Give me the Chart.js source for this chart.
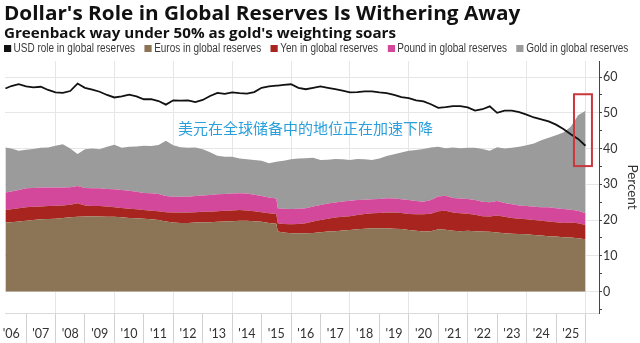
<!DOCTYPE html>
<html>
<head>
<meta charset="utf-8">
<script src="https://cdn.jsdelivr.net/npm/chart.js@4.4.1/dist/chart.umd.min.js"></script>
<style>
  body { margin: 0; background: #fff; width: 640px; height: 343px; overflow: hidden; position: relative; }
  #wrap { position: absolute; left: 0; top: 0; width: 640px; height: 343px; }
  #title { position: absolute; left: 4px; top: -1px; font: bold 20px "Open Sans", sans-serif; color: #111; white-space: nowrap; }
  #subtitle { position: absolute; left: 4px; top: 22px; font: bold 15px "Open Sans", sans-serif; color: #111; white-space: nowrap; }
  #legend { position: absolute; left: 4px; top: 41px; display: flex; gap: 12px; white-space: nowrap;
            font: 12.5px "Liberation Sans", sans-serif; color: #3a3a3a; transform-origin: left center; }
  #legend .item { display: flex; align-items: center; }
  #legend i { display: inline-block; width: 9px; height: 7px; margin-right: 3px; }
</style>
</head>
<body>
<div id="wrap"><canvas id="reservesChart"></canvas></div>
<div id="title">Dollar's Role in Global Reserves Is Withering Away</div>
<div id="subtitle">Greenback way under 50% as gold's weighting soars</div>
<div id="legend"></div>
<script>
  // Quarterly readings (decimal years); extra point in mid-2015 marks the reclassification step
  const dates = [
    2006.3, 2006.5, 2006.75,
    2007, 2007.25, 2007.5, 2007.75,
    2008, 2008.25, 2008.5, 2008.75,
    2009, 2009.25, 2009.5, 2009.75,
    2010, 2010.25, 2010.5, 2010.75,
    2011, 2011.25, 2011.5, 2011.75,
    2012, 2012.25, 2012.5, 2012.75,
    2013, 2013.25, 2013.5, 2013.75,
    2014, 2014.25, 2014.5, 2014.75,
    2015, 2015.25, 2015.5, 2015.55, 2015.75,
    2016, 2016.25, 2016.5, 2016.75,
    2017, 2017.25, 2017.5, 2017.75,
    2018, 2018.25, 2018.5, 2018.75,
    2019, 2019.25, 2019.5, 2019.75,
    2020, 2020.25, 2020.5, 2020.75,
    2021, 2021.25, 2021.5, 2021.75,
    2022, 2022.25, 2022.5, 2022.75,
    2023, 2023.25, 2023.5, 2023.75,
    2024, 2024.25, 2024.5, 2024.75,
    2025, 2025.25, 2025.5, 2025.75,
    2026
  ];

  // USD share of global reserves (%), drawn as a line
  const usd = [
    56.8, 57.5, 58.0,
    57.4, 57.1, 57.3, 56.4,
    55.7, 55.6, 56.1, 58.2,
    57.0, 56.5, 55.9, 55.0,
    54.3, 54.6, 55.1, 54.6,
    53.8, 53.8, 53.3, 52.3,
    53.5, 53.4, 53.5, 53.0,
    53.6, 54.7, 55.6, 55.3,
    55.7, 55.5, 55.4, 55.8,
    57.0, 57.4, 57.6, 57.6, 57.8,
    58.0, 57.0, 56.6, 57.0,
    57.4, 57.0, 56.6, 56.2,
    55.7, 55.8, 56.0, 56.0,
    55.7, 55.5, 55.0, 54.4,
    54.1, 53.5, 53.2, 52.4,
    51.4, 51.6, 51.9, 51.9,
    51.5, 50.6, 51.0, 51.8,
    50.0, 50.6, 50.6, 50.2,
    49.5, 48.7, 48.2, 47.6,
    46.7, 45.5, 44.0, 42.7,
    40.8
  ];

  // Stacked shares (%)
  const euros = [
    19.3, 19.4, 19.6,
    19.8, 20.0, 20.2, 20.3,
    20.4, 20.6, 20.8, 20.9,
    21.0, 21.1, 21.0, 20.9,
    20.9, 20.8, 20.6, 20.5,
    20.4, 20.2, 20.0, 19.6,
    19.3, 19.2, 19.2, 19.3,
    19.4, 19.4, 19.5, 19.6,
    19.7, 19.8, 19.8, 19.7,
    19.5, 19.2, 19.0, 16.8, 16.5,
    16.3, 16.3, 16.3, 16.4,
    16.6, 16.8, 16.9, 17.1,
    17.2, 17.4, 17.6, 17.7,
    17.7, 17.7, 17.6, 17.5,
    17.2, 17.0, 16.8, 16.9,
    17.4, 17.3, 17.0, 16.9,
    17.0, 16.9, 16.8, 16.7,
    16.5, 16.3, 16.2, 16.1,
    16.0, 15.8, 15.7, 15.5,
    15.4, 15.2, 15.1, 14.9,
    14.6
  ];

  const yen = [
    3.5, 3.6, 3.7,
    3.8, 3.7, 3.6, 3.6,
    3.6, 3.5, 3.5, 3.8,
    3.1, 2.8, 2.9, 2.9,
    2.7, 2.6, 2.6, 2.5,
    2.4, 2.4, 2.5, 2.6,
    2.8, 2.9, 2.9, 2.9,
    2.9, 2.9, 3.0, 3.0,
    3.0, 3.0, 2.9, 2.8,
    2.7, 2.7, 2.7, 2.3, 2.4,
    2.5, 2.6, 2.8, 3.2,
    3.4, 3.6, 3.8, 3.8,
    3.9, 4.0, 4.1, 4.2,
    4.3, 4.4, 4.5, 4.5,
    4.5, 4.6, 4.8, 4.9,
    5.1, 5.3, 5.1, 5.0,
    4.8, 4.6, 4.3, 4.3,
    4.8, 4.6, 4.4, 4.3,
    4.2, 4.2, 4.1, 4.1,
    4.0, 4.0, 4.2, 4.2,
    4.0
  ];

  const pound = [
    4.9, 5.0, 5.1,
    5.3, 5.3, 5.3, 5.2,
    5.1, 5.0, 4.9, 4.8,
    4.9, 5.0, 5.0, 4.9,
    5.0, 5.0, 5.0, 4.9,
    4.8, 4.9, 4.8, 4.5,
    4.4, 4.4, 4.4, 4.5,
    4.6, 4.7, 4.7, 4.7,
    4.7, 4.7, 4.7, 4.6,
    4.5, 4.4, 4.3, 4.2, 4.3,
    4.3, 4.3, 4.2, 4.2,
    4.2, 4.2, 4.2, 4.3,
    4.3, 4.2, 4.0, 3.9,
    3.9, 4.0, 3.9, 3.8,
    3.9, 3.7, 3.5, 3.8,
    4.1, 4.2, 4.1, 4.1,
    4.1, 4.1, 4.0, 4.0,
    4.0, 3.9, 3.8, 3.7,
    3.7, 3.7, 3.8, 4.0,
    3.9, 3.9, 3.6, 3.5,
    3.3
  ];

  const gold = [
    12.6, 12.0, 11.0,
    10.8, 10.9, 11.1, 11.2,
    11.7, 12.1, 10.8, 9.0,
    10.8, 11.1, 10.9, 11.8,
    12.5, 11.8, 12.3, 12.7,
    13.2, 13.2, 13.7, 15.5,
    14.4, 13.9, 13.7, 13.6,
    12.9, 12.0, 10.8, 10.4,
    10.3, 9.7, 9.6, 9.7,
    9.9, 9.6, 10.3, 13.1, 13.4,
    13.9, 14.0, 14.0, 13.6,
    12.6, 12.3, 12.2, 11.8,
    11.4, 11.5, 11.3, 11.0,
    11.3, 11.8, 12.4, 13.1,
    13.8, 14.3, 14.8, 14.7,
    13.9, 13.3, 14.1, 14.1,
    14.3, 14.6, 14.8, 14.4,
    15.1, 15.2, 15.8, 16.4,
    17.0, 17.7, 18.7, 19.4,
    20.4, 21.4, 23.2, 26.7,
    28.7
  ];

  const firstYear = 2006;
  const yearLabels = ["'06", "'07", "'08", "'09", "'10", "'11", "'12", "'13", "'14", "'15",
                      "'16", "'17", "'18", "'19", "'20", "'21", "'22", "'23", "'24", "'25"];

  const noteText = '美元在全球储备中的地位正在加速下降';
  const notePos = { x: 2012.16, y: 45.7 };
  const boxYears = [2025.61, 2026.22];
  const boxLevels = [35.1, 55.2];

  const pts = arr => dates.map((d, i) => ({ x: d, y: arr[i] }));

  const area = (label, arr, color, fill) => ({
    label, data: pts(arr), stack: 'shares', fill,
    backgroundColor: color, borderColor: color, borderWidth: 0,
    pointRadius: 0, tension: 0
  });

  // year separators at whole years, labels centred at mid-year
  const xTicks = [];
  yearLabels.forEach((_, i) => {
    xTicks.push(firstYear + i + 0.5);
    xTicks.push(firstYear + i + 1);
  });

  const labelFont = { family: 'Lato, sans-serif', size: 12.5 };

  // squeeze a text block to a given width
  function fitWidth(el, width) {
    el.style.transformOrigin = 'left center';
    el.style.transform = 'scaleX(' + (width / el.scrollWidth) + ')';
  }

  const callout = {
    id: 'callout',
    afterDatasetsDraw(chart) {
      const { ctx, scales: { x, y } } = chart;
      ctx.save();
      ctx.font = '15px "Noto Sans CJK SC", sans-serif';
      ctx.fillStyle = '#2a9fdc';
      ctx.textBaseline = 'middle';
      ctx.fillText(noteText, x.getPixelForValue(notePos.x), y.getPixelForValue(notePos.y));
      const l = x.getPixelForValue(boxYears[0]), r = x.getPixelForValue(boxYears[1]);
      const t = y.getPixelForValue(boxLevels[1]), b = y.getPixelForValue(boxLevels[0]);
      ctx.strokeStyle = '#c9383d';
      ctx.lineWidth = 2;
      ctx.strokeRect(l, t, r - l, b - t);
      ctx.restore();
    }
  };

  // legend built from the chart's own legend items
  const htmlLegend = {
    id: 'htmlLegend',
    afterUpdate(chart) {
      const box = document.getElementById('legend');
      box.innerHTML = '';
      Chart.defaults.plugins.legend.labels.generateLabels(chart).forEach(item => {
        const el = document.createElement('span');
        el.className = 'item';
        el.innerHTML = '<i style="background:' + item.fillStyle + '"></i>' + item.text;
        box.appendChild(el);
      });
      fitWidth(box, 624);
    }
  };

  fitWidth(document.getElementById('title'), 516);
  fitWidth(document.getElementById('subtitle'), 392);

  new Chart(document.getElementById('reservesChart'), {
    type: 'line',
    data: {
      datasets: [
        { label: 'USD role in global reserves', data: pts(usd), stack: 'usd', fill: false,
          borderColor: '#111', backgroundColor: '#111', borderWidth: 1.8, pointRadius: 0, tension: 0 },
        area('Euros in global reserves', euros, '#8c7556', 'origin'),
        area('Yen in global reserves', yen, '#a8241f', '-1'),
        area('Pound in global reserves', pound, '#d4489b', '-1'),
        area('Gold in global reserves', gold, '#9b9b9b', '-1')
      ]
    },
    options: {
      responsive: true,
      maintainAspectRatio: false,
      animation: false,
      layout: { padding: { left: 5, top: 61, right: 0, bottom: 0 } },
      plugins: {
        legend: { display: false },
        tooltip: { enabled: false }
      },
      scales: {
        x: {
          type: 'linear',
          min: 2006.285,
          max: 2026.46,
          afterBuildTicks: s => { s.ticks = xTicks.map(v => ({ value: v })); },
          afterFit: s => { s.height = 30; },
          ticks: {
            autoSkip: false, maxRotation: 0, padding: -17, color: '#333', font: labelFont,
            callback: v => Number.isInteger(v) ? '' : yearLabels[Math.floor(v) - firstYear]
          },
          grid: {
            color: c => (Number.isInteger(c.tick.value) && c.tick.value % 2 === 0) ? '#e6e6e6' : 'transparent',
            tickColor: c => Number.isInteger(c.tick.value) ? '#d2d2d2' : 'transparent',
            tickLength: 30
          },
          border: { color: '#dadada' }
        },
        y: {
          position: 'right',
          stacked: true,
          min: -6,
          max: 64.5,
          afterFit: s => { s.width = 41; },
          ticks: {
            stepSize: 5, includeBounds: false, padding: 1, color: '#333', font: labelFont,
            callback: v => v % 10 === 0 ? v : ''
          },
          grid: {
            color: c => c.tick.value % 10 === 0 ? '#e6e6e6' : 'transparent',
            tickColor: '#444',
            tickLength: 3
          },
          border: { color: '#444' },
          title: { display: true, text: 'Percent', color: '#333', font: { family: 'Lato, sans-serif', size: 13.5 }, padding: { top: 0, bottom: 2 } }
        }
      }
    },
    plugins: [callout, htmlLegend]
  });
</script>
</body>
</html>
